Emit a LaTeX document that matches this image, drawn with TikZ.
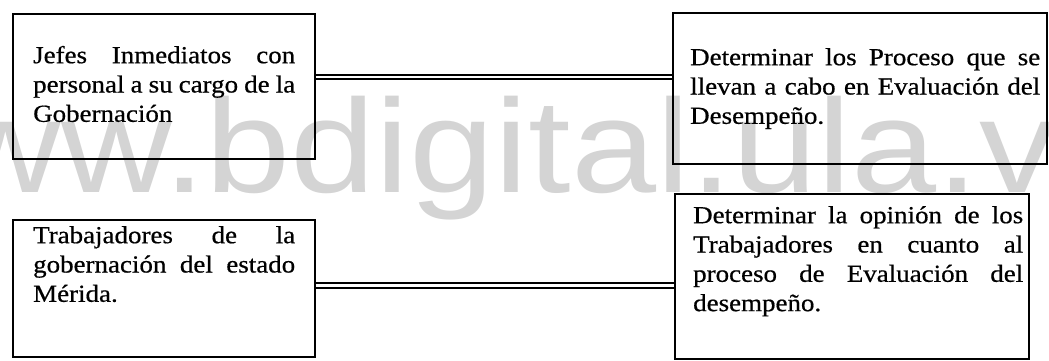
\documentclass[tikz,border=0pt]{standalone}
\usepackage{fontspec}
\setmainfont[FakeStretch=1.1,FakeBold=0.6]{Liberation Serif}
\newfontfamily\wmfont[FakeStretch=1.15]{Liberation Sans}
\newcommand\jline[2]{\makebox[#1][s]{\spaceskip=0pt\xspaceskip=0pt #2}}
\begin{document}
\begin{tikzpicture}[x=1pt,y=-1pt,
  box/.style={draw, line width=1.9pt, inner sep=0pt, anchor=north west},
  txt/.style={inner sep=0pt, anchor=north west, align=left, font=\fontsize{24.5}{29.3}\selectfont},
  dbl/.style={double, double distance=2.5pt, line width=2.2pt},
  wm/.style={inner sep=0pt, anchor=base west, text=black!17, font=\wmfont\fontsize{133}{140}\selectfont}]
\useasboundingbox (0,0) rectangle (1049,360);
\node[wm] (mark) at (-160,192) {www.bdigital.ula.ve};
% boxes
\node[box, minimum width=302pt, minimum height=145pt] (b1) at (12,13) {};
\node[box, minimum width=374pt, minimum height=151pt] (b2) at (672,12) {};
\node[box, minimum width=302pt, minimum height=137pt] (b3) at (12,219) {};
\node[box, minimum width=354pt, minimum height=165pt] (b4) at (674,193) {};
% texts
\node[txt, text width=262pt] (t1) at (33,43) {\rule{0pt}{20pt}\jline{262pt}{Jefes Inmediatos con}\\ \jline{262pt}{personal a su cargo de la}\\ Gobernación};
\node[txt, text width=350pt] (t2) at (690,45) {\rule{0pt}{20pt}\jline{350pt}{Determinar los Proceso que se}\\ \jline{350pt}{llevan a cabo en Evaluación del}\\ Desempeño.};
\node[txt, text width=262pt] (t3) at (33,223) {\rule{0pt}{20pt}\jline{262pt}{Trabajadores de la}\\ \jline{262pt}{gobernación del estado}\\ Mérida.};
\node[txt, text width=330pt] (t4) at (693,203) {\rule{0pt}{20pt}\jline{330pt}{Determinar la opinión de los}\\ \jline{330pt}{Trabajadores en cuanto al}\\ \jline{330pt}{proceso de Evaluación del}\\ desempeño.};
% connectors
\draw[dbl] ([yshift=9.5pt]b1.east) coordinate (c1) -- (b2.west |- c1);
\draw[dbl] ([yshift=2.8pt]b3.east) coordinate (c2) -- (b4.west |- c2);
\end{tikzpicture}
\end{document}
